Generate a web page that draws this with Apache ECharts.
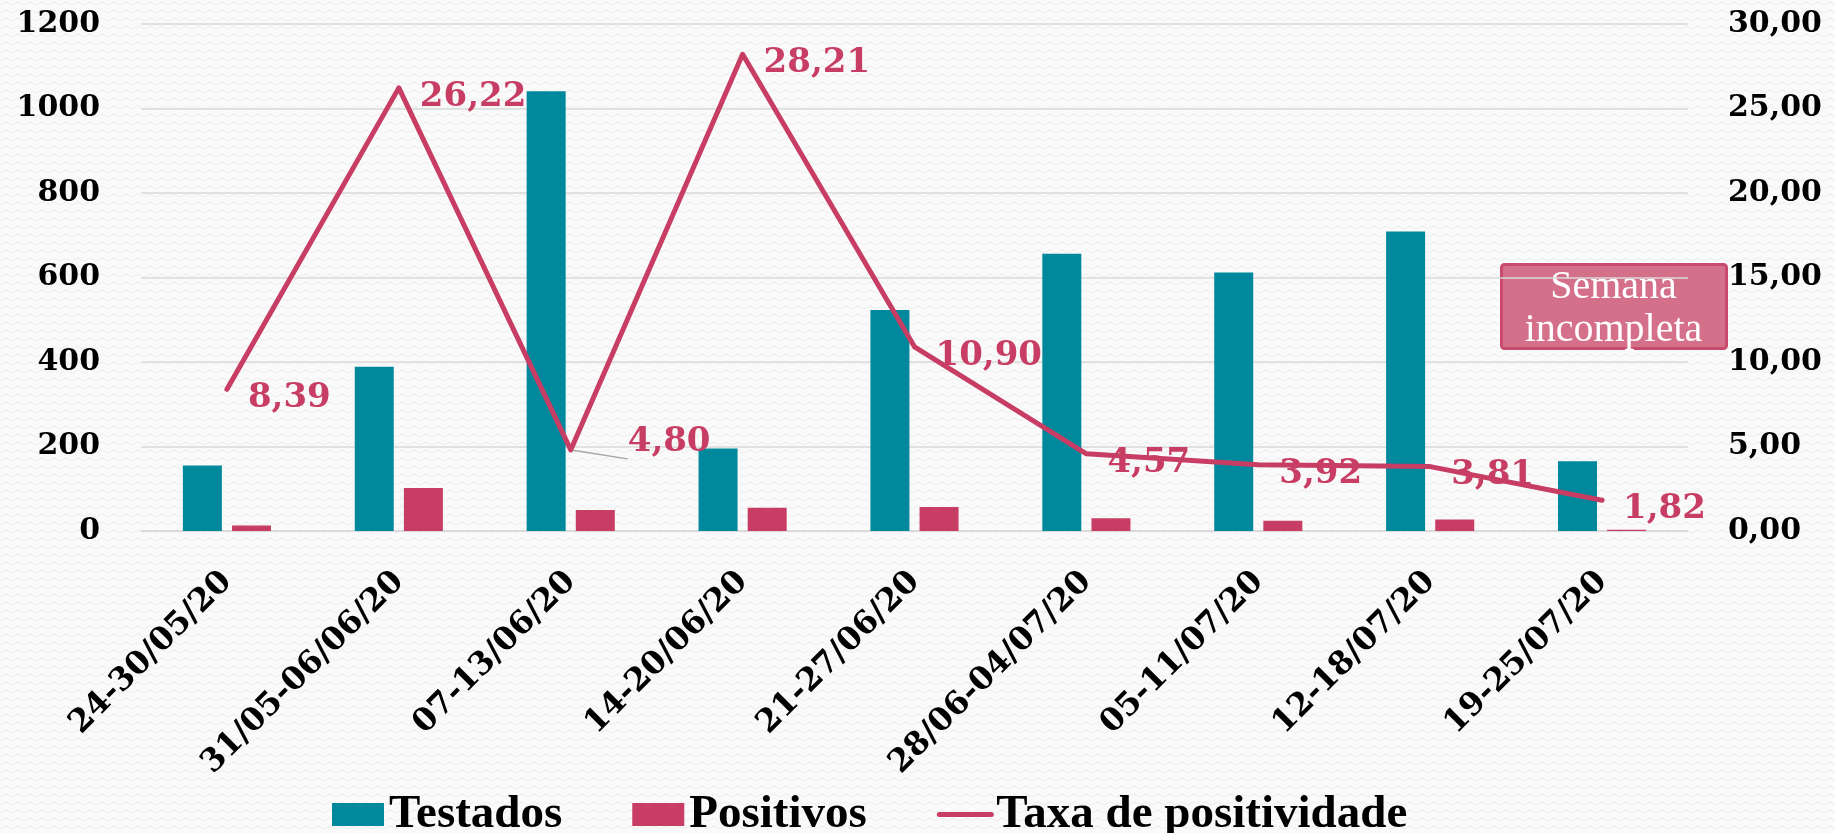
<!DOCTYPE html>
<html>
<head>
<meta charset="utf-8">
<script src="https://cdn.jsdelivr.net/npm/echarts@6/dist/echarts.min.js"></script>
<style>
html,body{margin:0;padding:0;background:#f9f9f9;}
#chart{width:1835px;height:833px;}
</style>
</head>
<body>
<div id="chart"></div>
<script>
const categories = ['24-30/05/20','31/05-06/06/20','07-13/06/20','14-20/06/20','21-27/06/20','28/06-04/07/20','05-11/07/20','12-18/07/20','19-25/07/20'];
const testados = [155, 389, 1041, 195, 523, 656, 612, 709, 165];
const positivos = [13, 102, 50, 55, 57, 30, 24, 27, 3];
const taxa = [8.39, 26.22, 4.80, 28.21, 10.90, 4.57, 3.92, 3.81, 1.82];
const leftTicks = {min: 0, max: 1200, interval: 200};
const rightTicks = {min: 0, max: 30, interval: 5};
const annotationText = 'Semana\nincompleta';

const TEAL = '#00889C';
const PINK = '#C73D63';
const fmt = v => Number(v).toFixed(2).replace('.', ',');

// subtle zigzag background pattern
const pc = document.createElement('canvas');
pc.width = 12; pc.height = 8;
const pctx = pc.getContext('2d');
pctx.fillStyle = '#fafafa';
pctx.fillRect(0, 0, 12, 8);
pctx.strokeStyle = '#f0f0f0';
pctx.lineWidth = 1.2;
pctx.beginPath();
pctx.moveTo(0, 5); pctx.lineTo(6, 2); pctx.lineTo(12, 5);
pctx.stroke();

const taxaData = taxa.map((v, i) => {
  if (i === 2) {
    return {
      value: v,
      label: {offset: [36, -8]},
      labelLine: {show: true, lineStyle: {color: '#a6a6a6', width: 1.5}}
    };
  }
  return v;
});

const chart = echarts.init(document.getElementById('chart'));
chart.setOption({
  backgroundColor: {image: pc, repeat: 'repeat'},
  animation: false,
  grid: {left: 141, right: 147, top: 24, bottom: 302, containLabel: false},
  legend: {
    left: 327, top: 786,
    itemWidth: 52, itemHeight: 23, itemGap: 70,
    textStyle: {fontFamily: 'Liberation Serif', fontWeight: 'bold', fontSize: 47, color: '#000'},
    data: [
      {name: 'Testados', icon: 'rect'},
      {name: 'Positivos', icon: 'rect'},
      {name: 'Taxa de positividade', itemStyle: {opacity: 0}, lineStyle: {width: 5, cap: 'round'}}
    ]
  },
  xAxis: {
    type: 'category',
    data: categories,
    axisTick: {show: false},
    axisLine: {lineStyle: {color: '#d9d9d9', width: 1.5}},
    axisLabel: {
      interval: 0, rotate: 45, margin: 46,
      fontFamily: 'DejaVu Serif', fontWeight: 'bold', fontSize: 32, color: '#000'
    }
  },
  yAxis: [
    {
      type: 'value', min: leftTicks.min, max: leftTicks.max, interval: leftTicks.interval,
      axisLine: {show: false}, axisTick: {show: false},
      splitLine: {lineStyle: {color: '#d9d9d9', width: 1.5}},
      axisLabel: {margin: 41, formatter: v => String(v), fontFamily: 'DejaVu Serif', fontWeight: 'bold', fontSize: 30, color: '#000'}
    },
    {
      type: 'value', min: rightTicks.min, max: rightTicks.max, interval: rightTicks.interval,
      axisLine: {show: false}, axisTick: {show: false}, splitLine: {show: false},
      axisLabel: {margin: 40, formatter: fmt, fontFamily: 'DejaVu Serif', fontWeight: 'bold', fontSize: 30, color: '#000'}
    }
  ],
  series: [
    {
      name: 'Testados', type: 'bar', data: testados,
      barWidth: 39, barGap: '26%',
      itemStyle: {color: TEAL}
    },
    {
      name: 'Positivos', type: 'bar', data: positivos,
      barWidth: 39,
      itemStyle: {color: PINK}
    },
    {
      name: 'Taxa de positividade', type: 'line', yAxisIndex: 1, data: taxaData,
      symbol: 'circle', symbolSize: 4, showSymbol: true,
      lineStyle: {color: PINK, width: 5, cap: 'round', join: 'round'},
      itemStyle: {color: PINK},
      label: {
        show: true, position: 'right', distance: 19, offset: [0, 9],
        formatter: p => fmt(p.value),
        fontFamily: 'DejaVu Serif', fontWeight: 'bold', fontSize: 34, color: PINK
      },
      z: 5
    }
  ],
  graphic: [
    {
      type: 'group', left: 1500, top: 263,
      children: [
        {
          type: 'rect', shape: {x: 0, y: 0, width: 225, height: 84, r: 3},
          style: {fill: 'rgba(205,82,114,0.82)', stroke: '#C94A6C', lineWidth: 3}
        },
        {
          type: 'text', x: 112, y: 44,
          style: {
            text: annotationText, fill: '#fff', align: 'center', verticalAlign: 'middle',
            font: '40px "Liberation Serif"', lineHeight: 43
          }
        }
      ]
    }
  ]
});
</script>
</body>
</html>
